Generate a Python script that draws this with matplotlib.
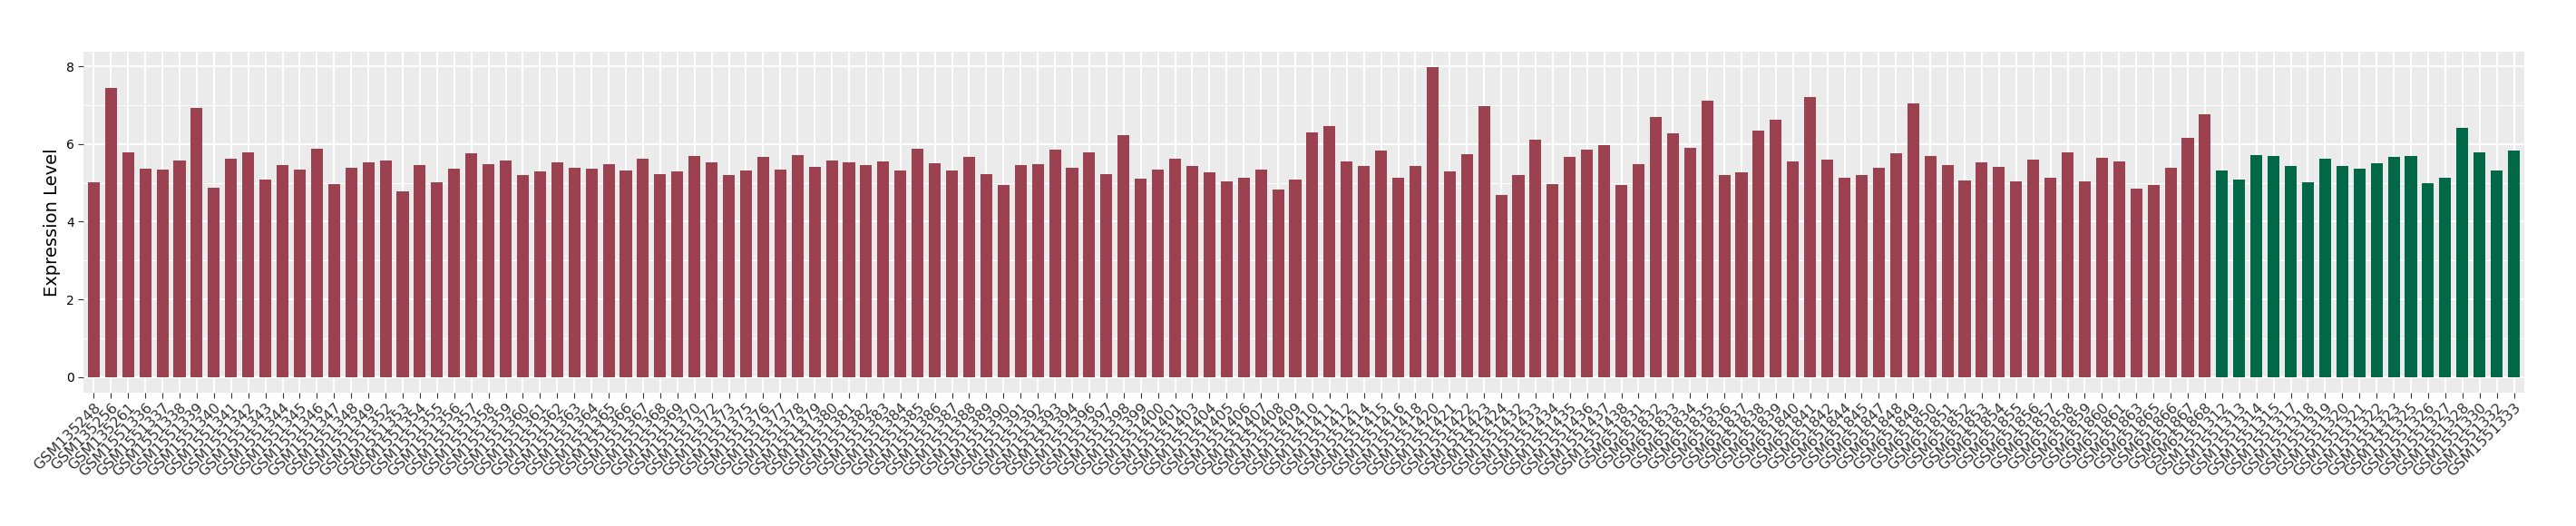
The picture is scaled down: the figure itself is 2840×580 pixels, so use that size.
import numpy as np
import matplotlib
matplotlib.use('Agg')
import matplotlib.pyplot as plt

# sample ids in plot order
samples = ['GSM135248', 'GSM135256', 'GSM135261', 'GSM1551336', 'GSM1551337', 'GSM1551338',
           'GSM1551339', 'GSM1551340', 'GSM1551341', 'GSM1551342', 'GSM1551343', 'GSM1551344',
           'GSM1551345', 'GSM1551346', 'GSM1551347', 'GSM1551348', 'GSM1551349', 'GSM1551352',
           'GSM1551353', 'GSM1551354', 'GSM1551355', 'GSM1551356', 'GSM1551357', 'GSM1551358',
           'GSM1551359', 'GSM1551360', 'GSM1551361', 'GSM1551362', 'GSM1551363', 'GSM1551364',
           'GSM1551365', 'GSM1551366', 'GSM1551367', 'GSM1551368', 'GSM1551369', 'GSM1551370',
           'GSM1551372', 'GSM1551373', 'GSM1551375', 'GSM1551376', 'GSM1551377', 'GSM1551378',
           'GSM1551379', 'GSM1551380', 'GSM1551381', 'GSM1551382', 'GSM1551383', 'GSM1551384',
           'GSM1551385', 'GSM1551386', 'GSM1551387', 'GSM1551388', 'GSM1551389', 'GSM1551390',
           'GSM1551391', 'GSM1551392', 'GSM1551393', 'GSM1551394', 'GSM1551396', 'GSM1551397',
           'GSM1551398', 'GSM1551399', 'GSM1551400', 'GSM1551401', 'GSM1551403', 'GSM1551404',
           'GSM1551405', 'GSM1551406', 'GSM1551407', 'GSM1551408', 'GSM1551409', 'GSM1551410',
           'GSM1551411', 'GSM1551412', 'GSM1551414', 'GSM1551415', 'GSM1551416', 'GSM1551418',
           'GSM1551420', 'GSM1551421', 'GSM1551422', 'GSM1551423', 'GSM1551424', 'GSM1551432',
           'GSM1551433', 'GSM1551434', 'GSM1551435', 'GSM1551436', 'GSM1551437', 'GSM1551438',
           'GSM651831', 'GSM651832', 'GSM651833', 'GSM651834', 'GSM651835', 'GSM651836',
           'GSM651837', 'GSM651838', 'GSM651839', 'GSM651840', 'GSM651841', 'GSM651842',
           'GSM651844', 'GSM651845', 'GSM651847', 'GSM651848', 'GSM651849', 'GSM651850',
           'GSM651851', 'GSM651852', 'GSM651853', 'GSM651854', 'GSM651855', 'GSM651856',
           'GSM651857', 'GSM651858', 'GSM651859', 'GSM651860', 'GSM651861', 'GSM651863',
           'GSM651865', 'GSM651866', 'GSM651867', 'GSM651868',
           'GSM1551312', 'GSM1551313', 'GSM1551314', 'GSM1551315', 'GSM1551317', 'GSM1551318',
           'GSM1551319', 'GSM1551320', 'GSM1551321', 'GSM1551322', 'GSM1551323', 'GSM1551325',
           'GSM1551326', 'GSM1551327', 'GSM1551328', 'GSM1551330', 'GSM1551332', 'GSM1551333']

expr = [5.02, 7.45, 5.79, 5.37, 5.35, 5.58, 6.93, 4.88, 5.63, 5.79,
        5.09, 5.46, 5.35, 5.88, 4.97, 5.39, 5.53, 5.58, 4.79, 5.46, 5.02, 5.37,
        5.77, 5.49, 5.58, 5.21, 5.30, 5.53, 5.39, 5.37, 5.49, 5.32, 5.63, 5.23,
        5.30, 5.70, 5.53, 5.21, 5.32, 5.67, 5.35, 5.72, 5.42, 5.58, 5.53, 5.46, 5.56,
        5.32, 5.88, 5.51, 5.32, 5.67, 5.23, 4.95, 5.46, 5.49, 5.86, 5.39,
        5.79, 5.23, 6.23, 5.11, 5.35, 5.63, 5.44, 5.28, 5.04, 5.14, 5.35, 4.83, 5.09,
        6.30, 6.47, 5.56, 5.44, 5.84, 5.14, 5.44, 7.98, 5.30, 5.74, 6.98, 4.69,
        5.21, 6.12, 4.97, 5.67, 5.86, 5.98, 4.95, 5.49, 6.70, 6.28, 5.91, 7.12,
        5.21, 5.28, 6.35, 6.63, 5.56, 7.21, 5.60, 5.14, 5.21, 5.39, 5.77, 7.05,
        5.70, 5.46, 5.07, 5.53, 5.42, 5.04, 5.60, 5.14, 5.79, 5.04, 5.65, 5.56, 4.86,
        4.95, 5.39, 6.16, 6.77,
        5.32, 5.09, 5.72, 5.70, 5.44, 5.02, 5.63, 5.44,
        5.37, 5.51, 5.67, 5.70, 5.00, 5.14, 6.42, 5.79, 5.32, 5.84]

n_tumor = 124  # first group (red), rest are normal (green)
colors = ['#9b4150'] * n_tumor + ['#006846'] * (len(samples) - n_tumor)

fig = plt.figure(figsize=(28.4, 5.8), dpi=100)
ax = fig.add_axes([0.0324, 0.2534, 0.9475, 0.6488])
ax.set_facecolor('#ebebeb')

x = np.arange(len(samples))
ax.bar(x, expr, width=0.69, color=colors, zorder=3)

ax.set_xlim(-0.6, len(samples) - 0.4)
ax.set_ylim(-0.4, 8.38)
ax.set_yticks([0, 2, 4, 6, 8])
ax.set_yticks([1, 3, 5, 7], minor=True)
ax.set_xticks(x)
ax.set_xticklabels(samples, rotation=45, ha='right', va='top', rotation_mode='anchor',
                   fontsize=11.5, color='black')
ax.tick_params(axis='y', labelsize=10, colors='#333333', labelcolor='black', length=4)
ax.tick_params(axis='x', colors='#333333', length=4, pad=2)
ax.tick_params(axis='y', which='minor', length=0)
ax.grid(which='major', color='white', linewidth=1.4, zorder=0)
ax.grid(which='minor', axis='y', color='white', linewidth=0.7, zorder=0)
for s in ax.spines.values():
    s.set_visible(False)

ax.set_ylabel('Expression Level', fontsize=14)

fig.savefig('out.png', dpi=100)
